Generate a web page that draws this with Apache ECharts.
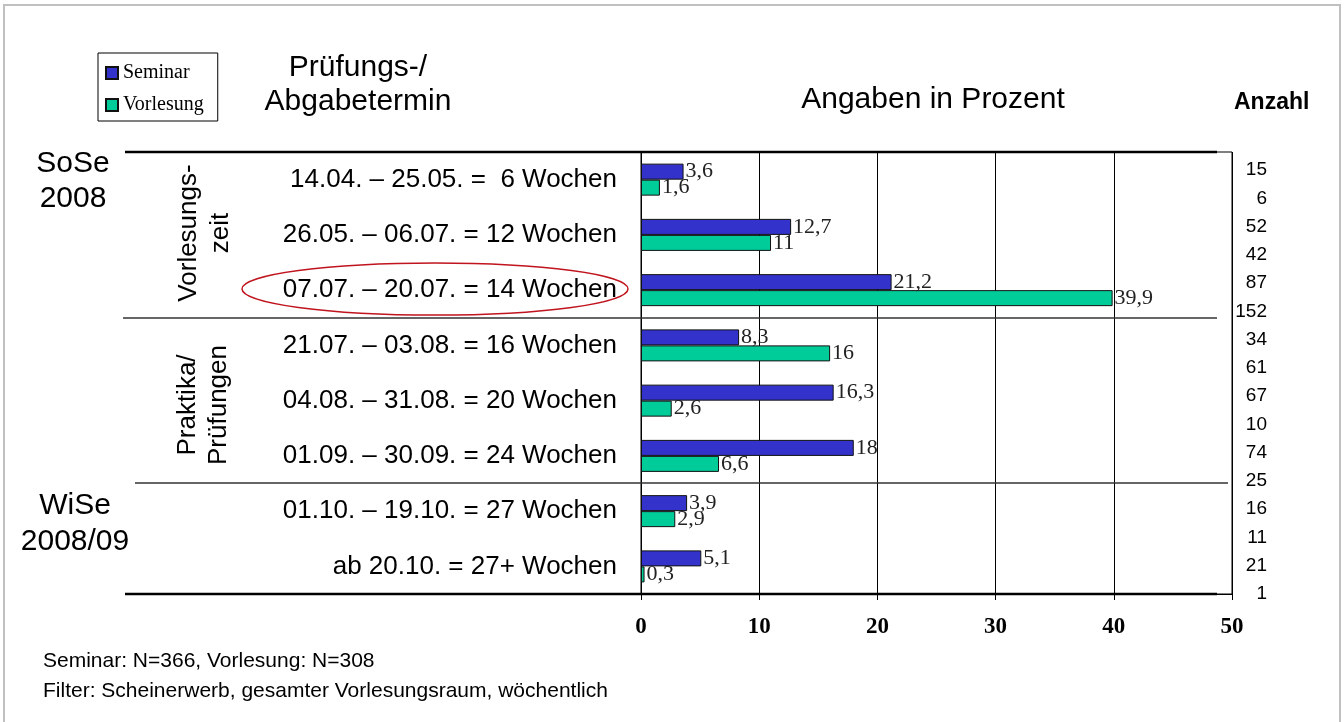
<!DOCTYPE html>
<html>
<head>
<meta charset="utf-8">
<title>Prüfungs-/Abgabetermin</title>
<script src="https://cdn.jsdelivr.net/npm/echarts@6/dist/echarts.min.js"></script>
<style>
  html, body { margin: 0; padding: 0; background: #fff; }
  #main { width: 1344px; height: 722px; }
</style>
</head>
<body>
<div id="main"></div>
<script>
// Prüfungs-/Abgabetermine
var termine = [
  '14.04. – 25.05. =  6 Wochen',
  '26.05. – 06.07. = 12 Wochen',
  '07.07. – 20.07. = 14 Wochen',
  '21.07. – 03.08. = 16 Wochen',
  '04.08. – 31.08. = 20 Wochen',
  '01.09. – 30.09. = 24 Wochen',
  '01.10. – 19.10. = 27 Wochen',
  'ab 20.10. = 27+ Wochen'
];
// Angaben in Prozent
var seminar = [3.6, 12.7, 21.2, 8.3, 16.3, 18, 3.9, 5.1];
var vorlesung = [1.6, 11, 39.9, 16, 2.6, 6.6, 2.9, 0.3];
// Anzahl
var anzahlSeminar = [15, 52, 87, 34, 67, 74, 16, 21];
var anzahlVorlesung = [6, 42, 152, 61, 10, 25, 11, 1];

var sans = '"Liberation Sans", Arial, sans-serif';
var serif = '"Liberation Serif", "Times New Roman", serif';

// zwei Zeilen je Termin: Seminar, Vorlesung
var anzahl = [];
anzahlSeminar.forEach(function (n, i) {
  anzahl.push(String(n));
  anzahl.push(String(anzahlVorlesung[i]));
});

function komma(p) {
  return String(p.value).replace('.', ',');
}

var myChart = echarts.init(document.getElementById('main'));

var option = {
  animation: false,
  textStyle: { fontFamily: sans },
  legend: {
    orient: 'vertical',
    left: 98,
    top: 53,
    padding: [10, 14, 6, 7],
    itemGap: 12,
    itemWidth: 12,
    itemHeight: 12,
    icon: 'rect',
    borderColor: '#000',
    borderWidth: 1,
    textStyle: { fontFamily: serif, fontSize: 20, color: '#000' },
    data: ['Seminar', 'Vorlesung']
  },
  grid: [
    { left: 641, top: 152, width: 591, height: 442, show: true, borderColor: '#000', borderWidth: 1, containLabel: false },
    { left: 1267, top: 156, width: 10, height: 452, containLabel: false }
  ],
  xAxis: [
    {
      type: 'value', gridIndex: 0, min: 0, max: 50, interval: 10,
      axisLine: { show: true, lineStyle: { color: '#000', width: 1 } },
      axisTick: { show: true, length: 6, lineStyle: { color: '#000' } },
      axisLabel: { margin: 22, fontFamily: serif, fontWeight: 'bold', fontSize: 23, color: '#000' },
      splitLine: { show: true, lineStyle: { color: '#000', width: 1 } }
    },
    { type: 'value', gridIndex: 1, show: false }
  ],
  yAxis: [
    {
      type: 'category', gridIndex: 0, data: termine, inverse: true,
      axisLine: { show: true, lineStyle: { color: '#000' } },
      axisTick: { show: false },
      axisLabel: { margin: 24, fontSize: 26, color: '#000', fontFamily: sans }
    },
    {
      type: 'category', gridIndex: 1, data: anzahl, inverse: true,
      axisLine: { show: false }, axisTick: { show: false }, splitLine: { show: false },
      axisLabel: { margin: 0, fontSize: 19, color: '#000', align: 'right', fontFamily: sans }
    }
  ],
  series: [
    {
      name: 'Seminar', type: 'bar', xAxisIndex: 0, yAxisIndex: 0,
      data: seminar, barWidth: 16, barGap: '0%',
      itemStyle: { color: '#3333CC', borderColor: '#111', borderWidth: 1 },
      label: { show: true, position: 'right', distance: 2, formatter: komma, fontFamily: serif, fontSize: 22, color: '#222' }
    },
    {
      name: 'Vorlesung', type: 'bar', xAxisIndex: 0, yAxisIndex: 0,
      data: vorlesung, barWidth: 16, barGap: '0%',
      itemStyle: { color: '#00CC99', borderColor: '#111', borderWidth: 1 },
      label: { show: true, position: 'right', distance: 2, formatter: komma, fontFamily: serif, fontSize: 22, color: '#222' }
    }
  ],
  graphic: [
    // Rahmen
    { type: 'rect', silent: true, z: 0, shape: { x: 4, y: 5, width: 1336, height: 740 },
      style: { fill: 'transparent', stroke: '#c0c0c0', lineWidth: 2 } },
    // Trennlinien
    { type: 'line', z: 100, shape: { x1: 125, y1: 152, x2: 1217, y2: 152 }, style: { stroke: '#000', lineWidth: 2.5 } },
    { type: 'line', z: 100, shape: { x1: 123, y1: 318, x2: 1217, y2: 318 }, style: { stroke: '#333', lineWidth: 1.5 } },
    { type: 'line', z: 100, shape: { x1: 135, y1: 483, x2: 1228, y2: 483 }, style: { stroke: '#333', lineWidth: 1.5 } },
    { type: 'line', z: 100, shape: { x1: 125, y1: 594, x2: 1217, y2: 594 }, style: { stroke: '#000', lineWidth: 2.5 } },
    // Markierung
    { type: 'ellipse', z: 100, shape: { cx: 435, cy: 289, rx: 193, ry: 26 },
      style: { fill: 'transparent', stroke: '#C0141E', lineWidth: 1.5 } },
    // Überschriften
    { type: 'text', x: 358, y: 85, style: { text: 'Prüfungs-/\nAbgabetermin', font: '30px ' + sans, fill: '#000', align: 'center', verticalAlign: 'middle', lineHeight: 34 } },
    { type: 'text', x: 933, y: 100, style: { text: 'Angaben in Prozent', font: '30px ' + sans, fill: '#000', align: 'center', verticalAlign: 'middle' } },
    { type: 'text', x: 1234, y: 103, style: { text: 'Anzahl', font: 'bold 23px ' + sans, fill: '#000', align: 'left', verticalAlign: 'middle' } },
    // Semester
    { type: 'text', x: 73, y: 181, style: { text: 'SoSe\n2008', font: '30px ' + sans, fill: '#000', align: 'center', verticalAlign: 'middle', lineHeight: 35 } },
    { type: 'text', x: 75, y: 524, style: { text: 'WiSe\n2008/09', font: '30px ' + sans, fill: '#000', align: 'center', verticalAlign: 'middle', lineHeight: 36 } },
    // Phasen
    { type: 'text', x: 205, y: 233, rotation: Math.PI / 2, style: { text: 'Vorlesungs-\nzeit', font: '26px ' + sans, fill: '#000', align: 'center', verticalAlign: 'middle', lineHeight: 32 } },
    { type: 'text', x: 203, y: 405, rotation: Math.PI / 2, style: { text: 'Praktika/\nPrüfungen', font: '26px ' + sans, fill: '#000', align: 'center', verticalAlign: 'middle', lineHeight: 31 } },
    // Fußnoten
    { type: 'text', x: 43, y: 661, style: { text: 'Seminar: N=366, Vorlesung: N=308', font: '21px ' + sans, fill: '#000', align: 'left', verticalAlign: 'middle' } },
    { type: 'text', x: 43, y: 691, style: { text: 'Filter: Scheinerwerb, gesamter Vorlesungsraum, wöchentlich', font: '21px ' + sans, fill: '#000', align: 'left', verticalAlign: 'middle' } }
  ]
};

myChart.setOption(option);
</script>
</body>
</html>
